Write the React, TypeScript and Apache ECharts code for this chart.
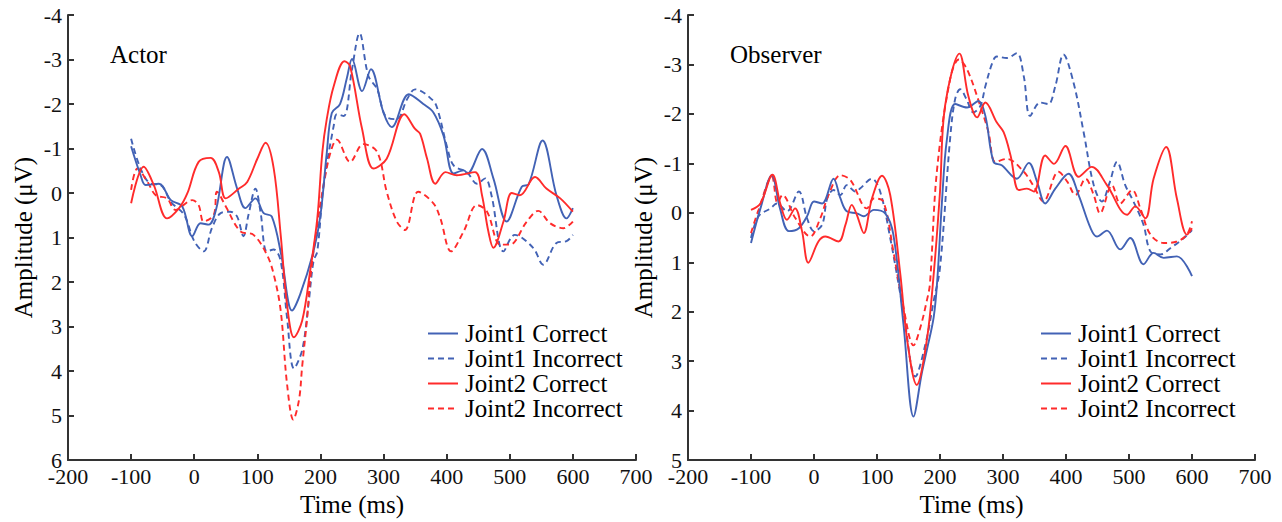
import React, { useEffect, useRef } from "react";
import * as echarts from "echarts";

// ---------- Data (Time in ms, Amplitude in µV; negative plotted upward) ----------
const SERIES_NAMES = ["Joint1 Correct", "Joint1 Incorrect", "Joint2 Correct", "Joint2 Incorrect"];
const PANEL_TITLES = ["Actor", "Observer"];

// Actor panel
const actorJ1CorrectT = [-100, -85, -77, -56, -37, -19, -3, 10, 23, 35, 52, 68, 81, 97, 110, 123, 138, 155, 168, 189, 200, 210, 218, 231, 242, 250, 266, 280, 300, 313, 340, 363, 379, 395, 411, 427, 433, 456, 474, 495, 519, 530, 552, 574, 590, 600];
const actorJ1CorrectV = [-1.05, -0.4, -0.18, -0.21, 0.16, 0.3, 0.97, 0.68, 0.71, 0.35, -0.81, -0.1, 0.34, 0.12, 0.45, 0.53, 1.4, 2.64, 2.27, 1.31, 0.5, -0.9, -1.8, -2.0, -2.59, -3.01, -2.29, -2.78, -1.8, -1.48, -2.22, -2.0, -1.81, -1.29, -0.44, -0.51, -0.44, -0.99, -0.33, 0.64, -0.14, -0.2, -1.18, 0.05, 0.57, 0.34];

const actorJ1IncorrectT = [-100, -85, -69, -53, -37, -16, 0, 15, 28, 42, 57, 68, 78, 86, 97, 105, 115, 126, 137, 147, 158, 171, 181, 189, 195, 205, 221, 226, 237, 250, 262, 276, 290, 303, 321, 337, 350, 379, 387, 400, 411, 432, 448, 461, 471, 490, 508, 537, 553, 574, 590, 600];
const actorJ1IncorrectV = [-1.22, -0.55, -0.21, -0.18, 0.2, 0.49, 1.08, 1.31, 0.79, 0.45, 0.42, 0.53, 0.97, 0.49, -0.1, 0.42, 1.31, 1.27, 1.53, 2.79, 3.94, 3.53, 2.5, 1.53, 1.31, -0.18, -1.51, -1.77, -1.73, -2.78, -3.59, -2.63, -2.33, -1.73, -1.66, -2.1, -2.33, -2.07, -1.81, -1.07, -0.62, -0.47, -0.21, -0.33, 0.05, 1.31, 0.94, 1.23, 1.61, 1.12, 1.08, 0.94];

const actorJ2CorrectT = [-100, -80, -64, -43, -24, -11, 7, 26, 39, 50, 71, 84, 100, 113, 126, 137, 147, 158, 171, 184, 195, 203, 210, 221, 238, 247, 266, 284, 305, 333, 350, 358, 369, 382, 398, 416, 445, 456, 466, 474, 490, 503, 516, 540, 558, 580, 600];
const actorJ2CorrectV = [0.23, -0.59, -0.18, 0.57, 0.34, 0.01, -0.7, -0.79, -0.47, 0.12, -0.1, -0.25, -0.77, -1.13, -0.55, 0.94, 2.5, 3.24, 2.87, 1.72, 0.57, -0.92, -1.66, -2.4, -2.96, -2.85, -1.44, -0.55, -0.77, -1.77, -1.44, -1.33, -0.77, -0.21, -0.47, -0.4, -0.47, 0.05, 0.86, 1.23, 0.64, 0.0, 0.05, -0.36, -0.1, 0.12, 0.42];

const actorJ2IncorrectT = [-100, -90, -74, -61, -43, -30, -3, 7, 15, 31, 36, 50, 73, 94, 115, 126, 137, 147, 157, 166, 171, 179, 184, 195, 205, 216, 226, 247, 268, 290, 305, 321, 334, 355, 379, 390, 407, 427, 448, 464, 485, 500, 527, 545, 564, 585, 600];
const actorJ2IncorrectV = [-0.07, -0.55, -0.25, 0.05, 0.12, 0.38, 0.16, 0.27, 0.64, 0.49, -0.03, 0.3, 0.86, 0.94, 1.38, 1.83, 2.64, 4.28, 5.09, 4.65, 3.9, 2.79, 1.9, 0.71, -0.18, -0.92, -1.2, -0.7, -1.1, -0.92, -0.03, 0.64, 0.83, -0.03, 0.23, 0.57, 1.31, 0.86, 0.27, 0.42, 1.16, 1.16, 0.64, 0.4, 0.68, 0.79, 0.64];

// Observer panel
const observerJ1CorrectT = [-100, -85, -67, -54, -40, -24, -11, 0, 13, 31, 42, 52, 68, 79, 95, 113, 126, 142, 158, 171, 179, 190, 196, 203, 211, 224, 243, 261, 272, 285, 298, 322, 341, 354, 367, 383, 404, 420, 439, 449, 465, 486, 502, 523, 539, 555, 576, 600];
const observerJ1CorrectV = [0.61, -0.09, -0.76, -0.09, 0.37, 0.31, 0.07, -0.23, -0.19, -0.69, -0.29, -0.03, 0.01, 0.07, -0.06, 0.01, 0.44, 2.25, 4.12, 3.25, 2.78, 2.11, 1.3, -0.2, -1.49, -2.2, -2.13, -2.26, -1.96, -1.03, -0.96, -0.69, -1.01, -0.63, -0.19, -0.49, -0.79, -0.36, 0.31, 0.48, 0.36, 0.74, 0.51, 1.04, 0.81, 0.91, 0.88, 1.28];

const observerJ1IncorrectT = [-100, -88, -69, -59, -43, -24, -11, 0, 13, 21, 31, 42, 52, 66, 73, 92, 105, 121, 142, 161, 177, 190, 200, 216, 224, 232, 242, 253, 264, 272, 283, 290, 306, 322, 333, 343, 359, 372, 383, 396, 412, 428, 444, 457, 469, 481, 494, 507, 523, 534, 550, 566, 587, 600];
const observerJ1IncorrectV = [0.51, 0.07, -0.09, -0.19, -0.03, -0.43, 0.11, 0.37, 0.24, -0.29, -0.46, -0.36, -0.56, -0.43, -0.49, -0.69, -0.43, 0.51, 2.0, 3.31, 2.65, 1.78, 1.11, -1.49, -2.3, -2.5, -2.3, -2.03, -2.16, -2.56, -3.03, -3.16, -3.13, -3.23, -2.76, -1.96, -2.23, -2.2, -2.56, -3.2, -2.63, -1.63, -0.56, -0.23, -0.6, -1.03, -0.56, -0.23, 0.24, 0.78, 0.84, 0.71, 0.51, 0.35];

const observerJ2CorrectT = [-100, -85, -66, -53, -43, -30, -19, -9, 7, 18, 39, 50, 60, 68, 79, 92, 108, 121, 137, 148, 163, 179, 190, 200, 208, 231, 245, 259, 272, 290, 301, 312, 325, 338, 349, 367, 381, 399, 420, 441, 465, 497, 510, 526, 539, 559, 576, 592, 600];
const observerJ2CorrectV = [-0.06, -0.19, -0.77, -0.16, 0.14, -0.09, 0.37, 1.01, 0.58, 0.48, 0.58, 0.24, -0.16, 0.04, 0.41, -0.29, -0.75, -0.36, 1.24, 2.58, 3.48, 2.58, 1.24, -0.43, -2.16, -3.22, -2.36, -1.93, -2.23, -1.83, -1.63, -1.16, -0.46, -0.49, -0.43, -1.16, -0.99, -1.35, -0.73, -0.93, -0.56, 0.04, -0.13, 0.11, -0.69, -1.33, -0.29, 0.44, 0.31];

const observerJ2IncorrectT = [-100, -88, -67, -58, -50, -30, -6, 10, 23, 42, 58, 84, 95, 110, 126, 142, 158, 169, 179, 184, 195, 216, 230, 243, 264, 277, 288, 306, 333, 349, 364, 388, 402, 415, 431, 444, 454, 473, 486, 505, 518, 534, 555, 576, 592, 600];
const observerJ2IncorrectV = [0.41, -0.06, -0.73, -0.2, -0.36, 0.1, 0.48, 0.11, -0.36, -0.76, -0.66, -0.09, -0.29, -0.23, 0.78, 1.91, 2.68, 2.31, 1.78, 1.44, -0.83, -2.7, -3.1, -2.9, -2.16, -1.63, -1.03, -1.09, -0.83, -0.53, -0.23, -0.83, -0.63, -0.36, -0.69, -0.36, 0.01, -0.56, -0.19, -0.46, -0.09, 0.44, 0.61, 0.58, 0.44, 0.17];

// Axis ranges
const X_MIN = -200;
const X_MAX = 700;
const X_STEP = 100;
const ACTOR_Y_MIN = -4;
const ACTOR_Y_MAX = 6;
const OBSERVER_Y_MIN = -4;
const OBSERVER_Y_MAX = 5;

// ---------- Styles ----------
const BLUE = "#4262b5";
const RED = "#ff2b2b";
const AXIS = "#333333";
const FONT = "Liberation Serif";

const pair = (t: number[], v: number[]) => t.map((x, i) => [x, v[i]]);

function lineSeries(name: string, t: number[], v: number[], color: string, dashed: boolean, idx: number) {
  return {
    type: "line",
    name,
    xAxisIndex: idx,
    yAxisIndex: idx,
    data: pair(t, v),
    smooth: 0.35,
    symbol: "none",
    showSymbol: false,
    lineStyle: { color, width: 1.9, type: dashed ? [6, 4] : "solid" },
    itemStyle: { color },
    z: dashed ? 2 : 3,
  };
}

function xAxis(idx: number) {
  return {
    type: "value",
    gridIndex: idx,
    min: X_MIN,
    max: X_MAX,
    interval: X_STEP,
    name: "Time (ms)",
    nameLocation: "middle",
    nameGap: 29,
    nameTextStyle: { fontFamily: FONT, fontSize: 25, color: "#000" },
    axisLine: { show: true, onZero: false, lineStyle: { color: AXIS, width: 2 } },
    axisTick: { show: true, inside: true, length: 6, lineStyle: { color: AXIS, width: 2 } },
    axisLabel: { fontFamily: FONT, fontSize: 22, color: "#111", margin: 5 },
    splitLine: { show: false },
  };
}

function yAxis(idx: number, min: number, max: number) {
  return {
    type: "value",
    gridIndex: idx,
    min,
    max,
    interval: 1,
    inverse: true,
    name: "Amplitude (μV)",
    nameLocation: "middle",
    nameGap: 32,
    nameRotate: 90,
    nameTextStyle: { fontFamily: FONT, fontSize: 25, color: "#000" },
    axisLine: { show: true, onZero: false, lineStyle: { color: AXIS, width: 2 } },
    axisTick: { show: true, inside: true, length: 6, lineStyle: { color: AXIS, width: 2 } },
    axisLabel: { fontFamily: FONT, fontSize: 22, color: "#111", margin: 6 },
    splitLine: { show: false },
  };
}

function legend(left: number) {
  return {
    show: true,
    orient: "vertical",
    left,
    top: 316,
    itemWidth: 30,
    itemHeight: 14,
    itemGap: 0,
    data: SERIES_NAMES,
    itemStyle: { opacity: 0, borderWidth: 0 },
    textStyle: { fontFamily: FONT, fontSize: 25, color: "#000", lineHeight: 25, padding: [0, 0, 0, 2] },
    selectedMode: false,
  };
}

export default function App() {
  const ref = useRef<HTMLDivElement>(null);
  useEffect(() => {
    if (!ref.current) return;
    const chart = echarts.init(ref.current, undefined, { renderer: "svg" });
    chart.setOption({
      animation: false,
      backgroundColor: "#ffffff",
      textStyle: { fontFamily: FONT },
      grid: [
        { left: 68, top: 15, width: 568, height: 449 },
        { left: 688, top: 15, width: 567, height: 449 },
      ],
      xAxis: [xAxis(0), xAxis(1)],
      yAxis: [yAxis(0, ACTOR_Y_MIN, ACTOR_Y_MAX), yAxis(1, OBSERVER_Y_MIN, OBSERVER_Y_MAX)],
      legend: [legend(422), legend(1035)],
      graphic: [
        { type: "text", left: 110, top: 42, style: { text: PANEL_TITLES[0], fontFamily: FONT, fontSize: 25, fill: "#000" } },
        { type: "text", left: 730, top: 42, style: { text: PANEL_TITLES[1], fontFamily: FONT, fontSize: 25, fill: "#000" } },
      ],
      series: [
        lineSeries(SERIES_NAMES[0], actorJ1CorrectT, actorJ1CorrectV, BLUE, false, 0),
        lineSeries(SERIES_NAMES[1], actorJ1IncorrectT, actorJ1IncorrectV, BLUE, true, 0),
        lineSeries(SERIES_NAMES[2], actorJ2CorrectT, actorJ2CorrectV, RED, false, 0),
        lineSeries(SERIES_NAMES[3], actorJ2IncorrectT, actorJ2IncorrectV, RED, true, 0),
        lineSeries(SERIES_NAMES[0], observerJ1CorrectT, observerJ1CorrectV, BLUE, false, 1),
        lineSeries(SERIES_NAMES[1], observerJ1IncorrectT, observerJ1IncorrectV, BLUE, true, 1),
        lineSeries(SERIES_NAMES[2], observerJ2CorrectT, observerJ2CorrectV, RED, false, 1),
        lineSeries(SERIES_NAMES[3], observerJ2IncorrectT, observerJ2IncorrectV, RED, true, 1),
      ],
    });
    return () => chart.dispose();
  }, []);
  return (
    <div
      ref={ref}
      style={{ position: "fixed", left: 0, top: 0, width: 1282, height: 522, background: "#fff" }}
    />
  );
}
